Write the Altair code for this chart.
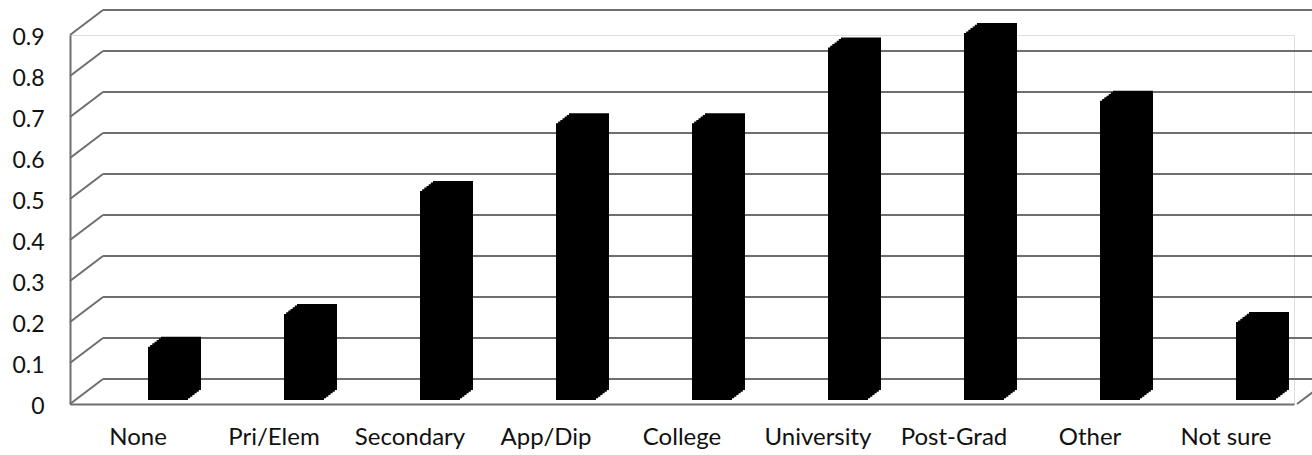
import altair as alt
import pandas as pd

categories = ["None", "Pri/Elem", "Secondary", "App/Dip", "College",
              "University", "Post-Grad", "Other", "Not sure"]
values = [0.13, 0.21, 0.51, 0.675, 0.675, 0.86, 0.895, 0.73, 0.19]
tick_values = [0, 0.1, 0.2, 0.3, 0.4, 0.5, 0.6, 0.7, 0.8, 0.9]

bars_df = pd.DataFrame({"cat": categories, "val": values})
grid_df = pd.DataFrame({"level": tick_values})

W, H = 1224, 369
DX, DY = 33, -25          # perspective shift of the back wall
GRID = "#6e6e6e"
FONT = "Lato"

x_enc = alt.X("cat:N", sort=categories,
              scale=alt.Scale(paddingInner=0, paddingOuter=0),
              axis=alt.Axis(title=None, labelAngle=0, ticks=False,
                            labelFont=FONT, labelFontSize=24, labelColor="#111",
                            labelPadding=21, domainColor=GRID, domainWidth=2))
y_scale = alt.Scale(domain=[0, 0.9], nice=False, zero=True)

# back wall grid lines
back = alt.Chart(grid_df).mark_rule(color=GRID, strokeWidth=2, yOffset=DY).encode(
    y=alt.Y("level:Q", scale=y_scale,
            axis=alt.Axis(title=None, values=tick_values, ticks=False, grid=False,
                          labelExpr="datum.value == 0 ? '0' : format(datum.value, '.1f')",
                          labelFont=FONT, labelFontSize=23, labelColor="#111",
                          labelPadding=26, labelOffset=2,
                          domainColor=GRID, domainWidth=2)),
    x=alt.value(DX), x2=alt.value(W + 120),
)
# side wall diagonals
side = alt.Chart(grid_df).mark_rule(color=GRID, strokeWidth=2, y2Offset=DY).encode(
    y=alt.Y("level:Q", scale=y_scale), y2="level:Q",
    x=alt.value(0), x2=alt.value(DX),
)
# right floor diagonal
right = alt.Chart(grid_df[grid_df.level == 0]).mark_rule(
    color=GRID, strokeWidth=2, y2Offset=DY).encode(
    y=alt.Y("level:Q", scale=y_scale), y2="level:Q",
    x=alt.value(W + 3), x2=alt.value(W + 3 + DX),
)

layers = [back, side, right]
steps = 7
for k in range(steps):
    f = k / (steps - 1)
    ox = 30 + 13 * f
    oy = -4 - 10 * f
    layers.append(
        alt.Chart(bars_df).mark_bar(color="#000", size=40, xOffset=ox,
                                    yOffset=oy, y2Offset=oy, clip=False).encode(
            x=x_enc,
            y=alt.Y("val:Q", scale=y_scale),
        )
    )

chart = alt.layer(*layers).properties(
    width=W, height=H,
    autosize=alt.AutoSizeParams(type="none"),
    padding={"left": 70, "top": 35, "right": 18, "bottom": 51},
).configure_view(stroke=None).configure(background="white")

chart.save("out.html", embed_options={"renderer": "svg", "actions": False})
